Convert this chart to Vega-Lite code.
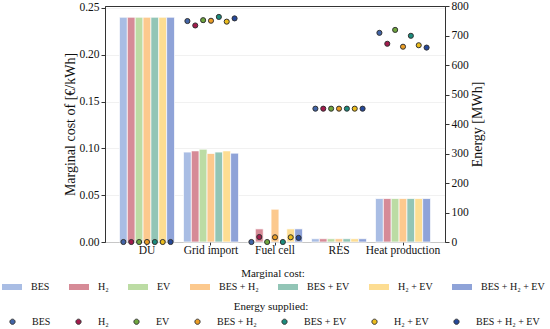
{
  "$schema": "https://vega.github.io/schema/vega-lite/v6.json",
  "width": 340,
  "height": 236,
  "autosize": {"type": "none"},
  "padding": {"left": 105, "top": 6, "right": 105, "bottom": 87},
  "config": {
    "font": "Liberation Serif",
    "view": {"stroke": "#333", "strokeWidth": 1},
    "axis": {"labelFont": "Liberation Serif", "titleFont": "Liberation Serif", "labelColor": "#111", "titleColor": "#111", "labelFontSize": 11.5, "titleFontSize": 14, "titleFontWeight": "normal", "domainColor": "#333", "tickColor": "#333", "tickSize": 4},
    "legend": {"labelFont": "Liberation Serif", "titleFont": "Liberation Serif", "labelFontSize": 10, "titleFontSize": 11, "titleFontWeight": "normal", "labelColor": "#111", "titleColor": "#111"}
  },
  "data": {"values": [
    {"cat": "DU", "scen": "BES", "cost": 0.24, "energy": 0},
    {"cat": "DU", "scen": "H₂", "cost": 0.24, "energy": 0},
    {"cat": "DU", "scen": "EV", "cost": 0.24, "energy": 0},
    {"cat": "DU", "scen": "BES + H₂", "cost": 0.24, "energy": 0},
    {"cat": "DU", "scen": "BES + EV", "cost": 0.24, "energy": 0},
    {"cat": "DU", "scen": "H₂ + EV", "cost": 0.24, "energy": 0},
    {"cat": "DU", "scen": "BES + H₂ + EV", "cost": 0.24, "energy": 0},
    {"cat": "Grid import", "scen": "BES", "cost": 0.096, "energy": 749},
    {"cat": "Grid import", "scen": "H₂", "cost": 0.0973, "energy": 734},
    {"cat": "Grid import", "scen": "EV", "cost": 0.0991, "energy": 752},
    {"cat": "Grid import", "scen": "BES + H₂", "cost": 0.0945, "energy": 750},
    {"cat": "Grid import", "scen": "BES + EV", "cost": 0.096, "energy": 763},
    {"cat": "Grid import", "scen": "H₂ + EV", "cost": 0.0973, "energy": 747},
    {"cat": "Grid import", "scen": "BES + H₂ + EV", "cost": 0.0949, "energy": 758},
    {"cat": "Fuel cell", "scen": "BES", "cost": 0, "energy": 0},
    {"cat": "Fuel cell", "scen": "H₂", "cost": 0.014, "energy": 17},
    {"cat": "Fuel cell", "scen": "EV", "cost": 0, "energy": 0},
    {"cat": "Fuel cell", "scen": "BES + H₂", "cost": 0.035, "energy": 16},
    {"cat": "Fuel cell", "scen": "BES + EV", "cost": 0, "energy": 0},
    {"cat": "Fuel cell", "scen": "H₂ + EV", "cost": 0.014, "energy": 16},
    {"cat": "Fuel cell", "scen": "BES + H₂ + EV", "cost": 0.014, "energy": 14},
    {"cat": "RES", "scen": "BES", "cost": 0.0035, "energy": 452},
    {"cat": "RES", "scen": "H₂", "cost": 0.0035, "energy": 452},
    {"cat": "RES", "scen": "EV", "cost": 0.0035, "energy": 452},
    {"cat": "RES", "scen": "BES + H₂", "cost": 0.0035, "energy": 452},
    {"cat": "RES", "scen": "BES + EV", "cost": 0.0035, "energy": 452},
    {"cat": "RES", "scen": "H₂ + EV", "cost": 0.0035, "energy": 452},
    {"cat": "RES", "scen": "BES + H₂ + EV", "cost": 0.0035, "energy": 452},
    {"cat": "Heat production", "scen": "BES", "cost": 0.0464, "energy": 709},
    {"cat": "Heat production", "scen": "H₂", "cost": 0.0464, "energy": 672},
    {"cat": "Heat production", "scen": "EV", "cost": 0.0464, "energy": 719},
    {"cat": "Heat production", "scen": "BES + H₂", "cost": 0.0464, "energy": 662},
    {"cat": "Heat production", "scen": "BES + EV", "cost": 0.0464, "energy": 699},
    {"cat": "Heat production", "scen": "H₂ + EV", "cost": 0.0464, "energy": 667},
    {"cat": "Heat production", "scen": "BES + H₂ + EV", "cost": 0.0464, "energy": 659}
  ]},
  "encoding": {
    "x": {"field": "cat", "type": "nominal", "sort": ["DU", "Grid import", "Fuel cell", "RES", "Heat production"],
      "scale": {"paddingInner": 0.14, "paddingOuter": 0.226},
      "axis": {"title": null, "labelAngle": 0, "labelPadding": -1, "tickSize": 3, "domain": false}},
    "xOffset": {"field": "scen", "type": "nominal", "sort": ["BES", "H₂", "EV", "BES + H₂", "BES + EV", "H₂ + EV", "BES + H₂ + EV"], "scale": {"paddingInner": 0, "paddingOuter": 0}}
  },
  "layer": [
    {
      "mark": {"type": "bar", "stroke": "white", "strokeWidth": 0.7},
      "encoding": {
        "y": {"field": "cost", "type": "quantitative", "scale": {"domain": [0, 0.252], "nice": false},
          "axis": {"title": "Marginal cost of [€/kWh]", "values": [0, 0.05, 0.1, 0.15, 0.2, 0.25], "format": ".2f", "grid": true, "gridColor": "#eeeeee", "gridWidth": 0.8, "labelPadding": 2, "titlePadding": 1}},
        "color": {"field": "scen", "type": "nominal", "sort": ["BES", "H₂", "EV", "BES + H₂", "BES + EV", "H₂ + EV", "BES + H₂ + EV"],
          "scale": {"range": ["#a9bde4", "#d68b97", "#bcdca4", "#fcc98e", "#92c5b6", "#fddd92", "#8fa3d8"]},
          "legend": {"title": "Marginal cost:", "orient": "none", "legendX": -103, "legendY": 262, "direction": "horizontal", "columns": 7, "titleAnchor": "middle", "titlePadding": -2,
            "symbolType": "M-1,-0.3H1V0.3H-1Z", "symbolSize": 400, "symbolStrokeWidth": 0, "labelOffset": 9, "columnPadding": 19}}
      }
    },
    {
      "mark": {"type": "point", "filled": true, "size": 26, "stroke": "#333", "strokeWidth": 1, "opacity": 1},
      "encoding": {
        "y": {"field": "energy", "type": "quantitative", "scale": {"domain": [0, 800], "nice": false},
          "axis": {"orient": "right", "title": "Energy [MWh]", "titleAngle": 270, "titleBaseline": "top", "values": [0, 100, 200, 300, 400, 500, 600, 700, 800], "grid": false, "labelPadding": 2, "titlePadding": 2}},
        "fill": {"field": "scen", "type": "nominal", "sort": ["BES", "H₂", "EV", "BES + H₂", "BES + EV", "H₂ + EV", "BES + H₂ + EV"],
          "scale": {"range": ["#4265a8", "#a31a4c", "#6ea63e", "#eb9d24", "#1b8c7d", "#ebbc1c", "#25489a"]},
          "legend": {"title": "Energy supplied:", "orient": "none", "legendX": -103, "legendY": 295, "direction": "horizontal", "columns": 7, "titleAnchor": "middle", "titlePadding": -1,
            "symbolType": "M-0.26,0A0.26,0.26 0 1,0 0.26,0A0.26,0.26 0 1,0 -0.26,0Z", "symbolSize": 400, "symbolStrokeColor": "#333", "symbolStrokeWidth": 1, "labelOffset": 9, "columnPadding": 17}}
      }
    }
  ],
  "resolve": {"scale": {"y": "independent", "color": "independent", "fill": "independent"}}
}
